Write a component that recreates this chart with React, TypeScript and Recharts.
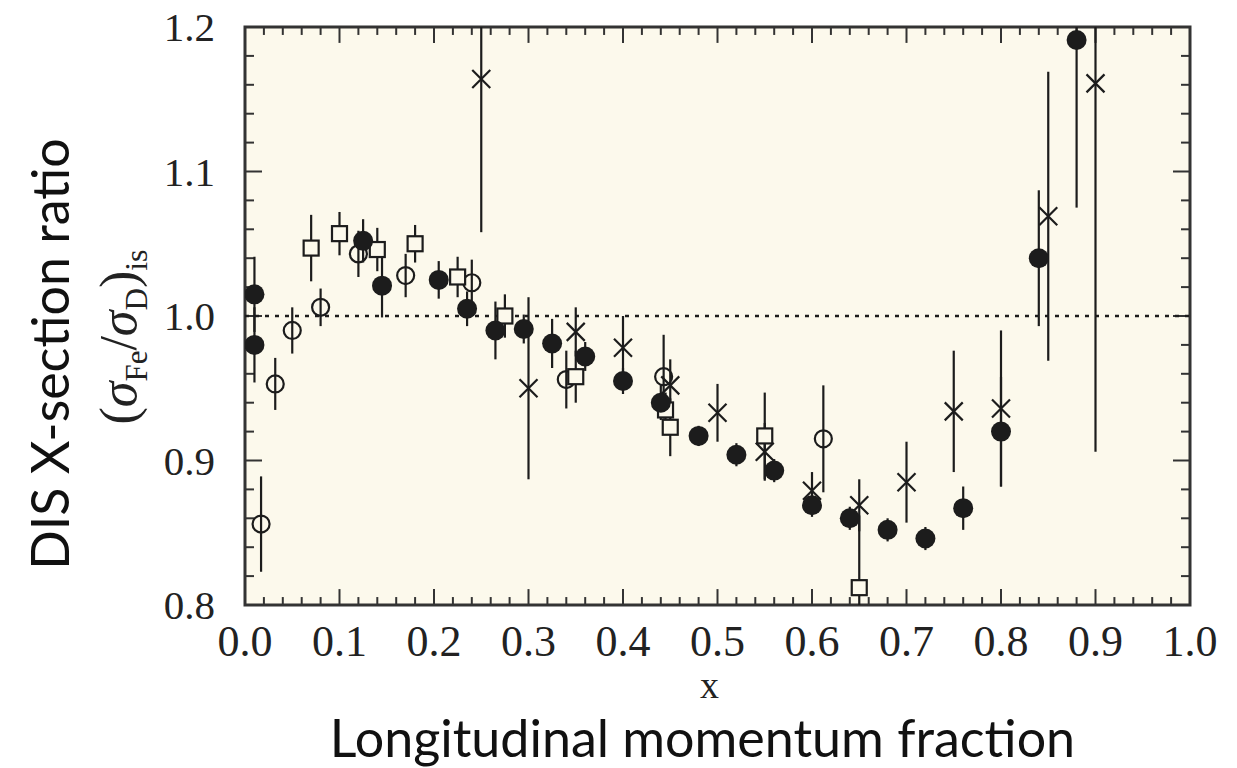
import React from "react";
import {
  ComposedChart,
  ErrorBar,
  ReferenceArea,
  ReferenceLine,
  Scatter,
  XAxis,
  YAxis,
} from "recharts";

// filled circles
const filledX = [0.01, 0.01, 0.125, 0.145, 0.205, 0.235, 0.265, 0.295, 0.325, 0.36, 0.4, 0.44, 0.48, 0.52, 0.56, 0.6, 0.64, 0.68, 0.72, 0.76, 0.8, 0.84, 0.88];
const filledY = [1.015, 0.98, 1.052, 1.021, 1.025, 1.005, 0.99, 0.991, 0.981, 0.972, 0.955, 0.94, 0.917, 0.904, 0.893, 0.869, 0.86, 0.852, 0.846, 0.867, 0.92, 1.04, 1.191];
const filledErr = [0.026, 0.026, 0.015, 0.022, 0.013, 0.012, 0.02, 0.01, 0.017, 0.01, 0.009, 0.012, 0.007, 0.008, 0.008, 0.008, 0.008, 0.008, 0.008, 0.015, 0.038, 0.047, 0.116];

// open circles
const openX = [0.017, 0.032, 0.05, 0.08, 0.12, 0.17, 0.24, 0.34, 0.443, 0.612];
const openY = [0.856, 0.953, 0.99, 1.006, 1.043, 1.028, 1.023, 0.956, 0.958, 0.915];
const openErr = [0.033, 0.018, 0.016, 0.013, 0.016, 0.015, 0.016, 0.02, 0.029, 0.037];

// open squares
const squareX = [0.07, 0.1, 0.14, 0.18, 0.225, 0.275, 0.35, 0.445, 0.45, 0.55, 0.65];
const squareY = [1.047, 1.057, 1.046, 1.05, 1.027, 1.0, 0.958, 0.935, 0.923, 0.917, 0.812];
const squareErr = [0.023, 0.015, 0.015, 0.013, 0.014, 0.015, 0.018, 0.012, 0.02, 0.03, 0.05];

// crosses
const crossX = [0.25, 0.3, 0.35, 0.4, 0.45, 0.5, 0.55, 0.6, 0.65, 0.7, 0.75, 0.8, 0.85, 0.9];
const crossY = [1.164, 0.95, 0.989, 0.978, 0.952, 0.933, 0.906, 0.879, 0.869, 0.885, 0.934, 0.936, 1.069, 1.161];
const crossErr = [0.106, 0.063, 0.017, 0.022, 0.018, 0.02, 0.02, 0.013, 0.018, 0.028, 0.042, 0.054, 0.1, 0.255];

const xMajorTicks = [0, 0.1, 0.2, 0.3, 0.4, 0.5, 0.6, 0.7, 0.8, 0.9, 1.0];
const yMajorTicks = [0.8, 0.9, 1.0, 1.1, 1.2];
const X_MIN = 0;
const X_MAX = 1;
const Y_MIN = 0.8;
const Y_MAX = 1.2;

const withMinor = (major: number[]) =>
  major.flatMap((t, i) =>
    i === major.length - 1 ? [t] : [0, 1, 2, 3, 4].map((k) => +(t + k * 0.02).toFixed(2))
  );
const xTicks = withMinor(xMajorTicks);
const yTicks = withMinor(yMajorTicks);

// error bars are cut at the frame, like the original plot
const toPoints = (xs: number[], ys: number[], errs: number[]) =>
  xs.map((x, i) => ({
    x,
    y: ys[i],
    err: [Math.min(errs[i], ys[i] - Y_MIN), Math.min(errs[i], Y_MAX - ys[i])],
  }));

const filledData = toPoints(filledX, filledY, filledErr);
const openData = toPoints(openX, openY, openErr);
const squareData = toPoints(squareX, squareY, squareErr);
const crossData = toPoints(crossX, crossY, crossErr);

const WIDTH = 1237;
const HEIGHT = 768;
const MARGIN = { top: 27, right: 47, bottom: 162, left: 244 };

const INK = "#1c1c1c";
const FRAME = "#333333";
const PAPER = "#fcf9ec";
const TICK_FONT = "'Liberation Serif', serif";
const SANS = "Lato, 'Noto Sans', sans-serif";

const isMajor = (v: number) => Math.abs(v * 10 - Math.round(v * 10)) < 1e-6;

// inward tick lengths, in axis units (about 16px / 8px on screen)
const xTickLen = (v: number) => (isMajor(v) ? 0.011 : 0.0055);
const yTickLen = (v: number) => (isMajor(v) ? 0.018 : 0.0095);

const BottomLabel = ({ x, y, payload }: any) =>
  isMajor(payload.value) ? (
    <text x={x} y={y + 51} textAnchor="middle" fontFamily={TICK_FONT} fontSize={44} fill="#222">
      {payload.value.toFixed(1)}
    </text>
  ) : (
    <g />
  );

const LeftLabel = ({ x, y, payload }: any) =>
  isMajor(payload.value) ? (
    <text x={x - 30} y={y + 14} textAnchor="end" fontFamily={TICK_FONT} fontSize={41} fill="#222">
      {payload.value.toFixed(1)}
    </text>
  ) : (
    <g />
  );

const FilledDot = ({ cx, cy }: any) => <circle cx={cx} cy={cy} r={10} fill={INK} />;
const OpenDot = ({ cx, cy }: any) => (
  <circle cx={cx} cy={cy} r={8.5} fill="none" stroke={INK} strokeWidth={2.2} />
);
const SquareDot = ({ cx, cy }: any) => (
  <rect x={cx - 7.5} y={cy - 7.5} width={15} height={15} fill={PAPER} stroke={INK} strokeWidth={2.2} />
);
const CrossDot = ({ cx, cy }: any) => (
  <path
    d={`M${cx - 9},${cy - 9}L${cx + 9},${cy + 9}M${cx - 9},${cy + 9}L${cx + 9},${cy - 9}`}
    stroke={INK}
    strokeWidth={2.2}
    fill="none"
  />
);

const YTitle = ({ viewBox }: any) => {
  const left = viewBox.x + viewBox.width;
  const cy = viewBox.y + viewBox.height / 2;
  const x1 = left - 176;
  const y1 = cy + 38;
  const x2 = left - 109;
  const y2 = cy + 21;
  return (
    <g>
      <text
        x={x1}
        y={y1}
        transform={`rotate(-90, ${x1}, ${y1})`}
        textAnchor="middle"
        fontFamily={SANS}
        fontSize={52}
        fill="#111"
      >
        DIS X-section ratio
      </text>
      <text
        x={x2}
        y={y2}
        transform={`rotate(-90, ${x2}, ${y2})`}
        textAnchor="middle"
        fontFamily={TICK_FONT}
        fontSize={52}
        fill="#222"
      >
        <tspan>(</tspan>
        <tspan fontStyle="italic">σ</tspan>
        <tspan fontSize={31} dy={11}>Fe</tspan>
        <tspan dy={-11}>/</tspan>
        <tspan fontStyle="italic">σ</tspan>
        <tspan fontSize={31} dy={11}>D</tspan>
        <tspan dy={-11}>)</tspan>
        <tspan fontSize={32} dy={11}>is</tspan>
      </text>
    </g>
  );
};

const XTitle = ({ viewBox }: any) => {
  const cx = viewBox.x + viewBox.width / 2;
  return (
    <g>
      <text x={cx - 8} y={viewBox.y + 93} textAnchor="middle" fontFamily={TICK_FONT} fontSize={38} fill="#222">
        x
      </text>
      <text x={cx - 15} y={viewBox.y + 152} textAnchor="middle" fontFamily={SANS} fontSize={52} fill="#111">
        Longitudinal momentum fraction
      </text>
    </g>
  );
};

export default function App() {
  return (
    <div style={{ position: "absolute", left: 0, top: 0, width: WIDTH, height: HEIGHT, background: "#fff" }}>
      {/* cream plot background sits behind the svg */}
      <div
        style={{
          position: "absolute",
          left: MARGIN.left,
          top: MARGIN.top,
          width: WIDTH - MARGIN.left - MARGIN.right,
          height: HEIGHT - MARGIN.top - MARGIN.bottom,
          background: PAPER,
        }}
      />
      <div style={{ position: "absolute", left: 0, top: 0 }}>
        <ComposedChart width={WIDTH} height={HEIGHT} margin={MARGIN}>
          <XAxis
            dataKey="x"
            type="number"
            domain={[X_MIN, X_MAX]}
            ticks={xTicks}
            interval={0}
            height={1}
            tickSize={0}
            tickMargin={0}
            axisLine={false}
            tickLine={false}
            allowDataOverflow
            tick={(p: any) => <BottomLabel {...p} />}
            label={{ content: (p: any) => <XTitle {...p} /> }}
          />
          <YAxis
            dataKey="y"
            type="number"
            domain={[Y_MIN, Y_MAX]}
            ticks={yTicks}
            interval={0}
            width={1}
            tickSize={0}
            tickMargin={0}
            axisLine={false}
            tickLine={false}
            allowDataOverflow
            tick={(p: any) => <LeftLabel {...p} />}
            label={{ content: (p: any) => <YTitle {...p} /> }}
          />
          {/* inward ticks on all four sides of the frame */}
          {xTicks.map((t) => (
            <ReferenceLine
              key={`xb${t}`}
              segment={[{ x: t, y: Y_MIN }, { x: t, y: Y_MIN + xTickLen(t) }]}
              stroke={FRAME}
              strokeWidth={2}
            />
          ))}
          {xTicks.map((t) => (
            <ReferenceLine
              key={`xt${t}`}
              segment={[{ x: t, y: Y_MAX }, { x: t, y: Y_MAX - xTickLen(t) }]}
              stroke={FRAME}
              strokeWidth={2}
            />
          ))}
          {yTicks.map((t) => (
            <ReferenceLine
              key={`yl${t}`}
              segment={[{ x: X_MIN, y: t }, { x: X_MIN + yTickLen(t), y: t }]}
              stroke={FRAME}
              strokeWidth={2}
            />
          ))}
          {yTicks.map((t) => (
            <ReferenceLine
              key={`yr${t}`}
              segment={[{ x: X_MAX, y: t }, { x: X_MAX - yTickLen(t), y: t }]}
              stroke={FRAME}
              strokeWidth={2}
            />
          ))}
          <ReferenceArea x1={X_MIN} x2={X_MAX} y1={Y_MIN} y2={Y_MAX} fill="none" stroke={FRAME} strokeWidth={3} />
          <ReferenceLine y={1} stroke={INK} strokeWidth={2.5} strokeDasharray="4 6" />
          <Scatter data={openData} shape={(p: any) => <OpenDot {...p} />} isAnimationActive={false}>
            <ErrorBar dataKey="err" direction="y" width={0} stroke={INK} strokeWidth={2.2} isAnimationActive={false} />
          </Scatter>
          <Scatter data={squareData} shape={(p: any) => <SquareDot {...p} />} isAnimationActive={false}>
            <ErrorBar dataKey="err" direction="y" width={0} stroke={INK} strokeWidth={2.2} isAnimationActive={false} />
          </Scatter>
          <Scatter data={crossData} shape={(p: any) => <CrossDot {...p} />} isAnimationActive={false}>
            <ErrorBar dataKey="err" direction="y" width={0} stroke={INK} strokeWidth={2.2} isAnimationActive={false} />
          </Scatter>
          <Scatter data={filledData} shape={(p: any) => <FilledDot {...p} />} isAnimationActive={false}>
            <ErrorBar dataKey="err" direction="y" width={0} stroke={INK} strokeWidth={2.2} isAnimationActive={false} />
          </Scatter>
        </ComposedChart>
      </div>
    </div>
  );
}
